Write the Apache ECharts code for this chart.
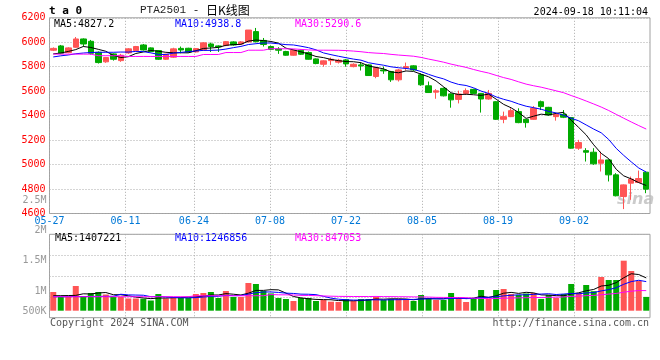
<!DOCTYPE html>
<html><head><meta charset="utf-8">
<script src="https://cdn.jsdelivr.net/npm/echarts@6/dist/echarts.min.js"></script>
<style>html,body{margin:0;padding:0;background:#fff}#c{width:660px;height:360px}</style>
</head><body><div id="c"></div>
<script>
const dates = ['05-27','05-28','05-29','05-30','05-31',
'06-03','06-04','06-05','06-06','06-07','06-11','06-12','06-13','06-14',
'06-17','06-18','06-19','06-20','06-21','06-24','06-25','06-26','06-27','06-28',
'07-01','07-02','07-03','07-04','07-05','07-08','07-09','07-10','07-11','07-12',
'07-15','07-16','07-17','07-18','07-19','07-22','07-23','07-24','07-25','07-26',
'07-29','07-30','07-31','08-01','08-02','08-05','08-06','08-07','08-08','08-09',
'08-12','08-13','08-14','08-15','08-16','08-19','08-20','08-21','08-22','08-23',
'08-26','08-27','08-28','08-29','08-30','09-02','09-03','09-04','09-05','09-06',
'09-09','09-10','09-11','09-12','09-13','09-18'];
const tickDates = ['05-27','06-11','06-24','07-08','07-22','08-05','08-19','09-02'];

const opens = [5935,5970,5916,5959,6027,6008,5918,5840,5905,5850,
5913,5932,5978,5954,5932,5861,5878,5950,5951,5921,
5937,5986,5970,5973,6003,5986,6003,6087,6015,5965,
5945,5924,5894,5935,5916,5864,5820,5850,5837,5856,
5801,5815,5815,5720,5774,5761,5693,5790,5807,5734,
5644,5592,5623,5578,5533,5582,5615,5582,5536,5514,
5370,5392,5433,5370,5370,5514,5468,5392,5411,5384,
5134,5114,5101,5011,5038,4916,4739,4848,4854,4938];
const closes = [5950,5910,5954,6027,5986,5910,5834,5875,5861,5894,
5946,5965,5937,5924,5861,5902,5946,5937,5921,5948,
5995,5965,5962,6005,5978,6003,6100,6005,5982,5942,
5935,5894,5935,5902,5861,5826,5848,5861,5853,5823,
5820,5807,5728,5793,5766,5693,5774,5801,5774,5652,
5589,5603,5562,5529,5577,5604,5582,5536,5582,5370,
5392,5441,5343,5343,5460,5474,5406,5411,5387,5134,
5180,5101,5006,5038,4916,4745,4834,4881,4886,4799];
const lows = [5928,5902,5910,5955,5965,5899,5826,5832,5850,5840,
5905,5928,5932,5918,5855,5856,5872,5910,5916,5916,
5932,5921,5921,5968,5972,5982,5998,5998,5965,5935,
5905,5890,5890,5896,5858,5820,5800,5815,5826,5800,
5795,5769,5725,5706,5742,5676,5679,5769,5766,5644,
5585,5538,5557,5465,5500,5569,5578,5425,5530,5365,
5338,5388,5338,5302,5366,5446,5400,5359,5380,5130,
5120,5025,4998,4943,4862,4740,4636,4712,4850,4766];
const highs = [5958,5978,5960,6043,6032,6019,5925,5880,5910,5905,
5952,5970,5986,5958,5936,5906,5955,5965,5955,5952,
6000,5997,5975,6010,6008,6010,6100,6117,6035,5972,
5960,5930,5940,5940,5925,5868,5852,5875,5864,5862,
5828,5834,5820,5800,5801,5766,5782,5834,5812,5747,
5679,5617,5630,5582,5604,5623,5620,5585,5610,5518,
5433,5460,5460,5374,5479,5523,5472,5415,5446,5388,
5202,5134,5134,5106,5042,4930,4838,4902,4951,4942];
const volumes = [801000,587000,587000,1058000,587000,758000,801000,694000,587000,587000,
523000,523000,514000,437000,716000,523000,587000,544000,544000,716000,
758000,801000,544000,844000,587000,587000,1187000,1144000,844000,741000,
544000,501000,416000,544000,544000,416000,458000,386000,373000,501000,
416000,501000,501000,587000,458000,501000,501000,458000,416000,673000,
544000,458000,458000,758000,544000,373000,544000,887000,501000,887000,
930000,716000,673000,737000,758000,506000,673000,544000,716000,1144000,
758000,1101000,836000,1444000,1315000,1315000,2143000,1701000,1273000,591000];

// moving-average values before the window is complete
const ma5Head = [5905,5912,5925,5940];
const ma10Head = [5880,5889,5896,5906,5912,5916,5918,5918,5918];
const ma30Head = [5903,5903,5903,5903,5903,5903,5890,5890,5890,5890,
5884,5884,5884,5884,5884,5884,5884,5884,5884,5884,5900,5900,5900,5916,5916,5916,5935,5935,5935];
const vma5Head = [640000,645000,650000,657000];
const vma10Head = [600000,600000,602000,605000,608000,610000,612000,615000,618000];
const vma30Head = [600000,600000,600000,600000,600000,600000,600000,600000,600000,600000,
600000,600000,600000,600000,600000,600000,600000,600000,600000,640000,
640000,640000,640000,640000,640000,640000,640000,640000,640000];

const priceTicks = {min:4600, max:6200, step:200};
const volTickValues = [500000,1000000,1500000,2000000,2500000];
const volTickLabels = ['500K','1M','1.5M','2M','2.5M'];
const priceLegend = ['MA5:4827.2','MA10:4938.8','MA30:5290.6'];
const volLegend = ['MA5:1407221','MA10:1246856','MA30:847053'];
const titleLead = 't a 0';
const titleCode = 'PTA2501 -';
const titleName = '日K线图';
const timeStamp = '2024-09-18 10:11:04';
const copyText = 'Copyright 2024 SINA.COM';
const urlText = 'http://finance.sina.com.cn';

function movingAvg(vals, n, head){
  return vals.map((v,i)=> i < n-1 ? head[i] : +(vals.slice(i-n+1,i+1).reduce((a,b)=>a+b,0)/n).toFixed(2));
}
const ma5 = movingAvg(closes,5,ma5Head), ma10 = movingAvg(closes,10,ma10Head), ma30 = movingAvg(closes,30,ma30Head);
const vma5 = movingAvg(volumes,5,vma5Head), vma10 = movingAvg(volumes,10,vma10Head), vma30 = movingAvg(volumes,30,vma30Head);

const UP='#ff5555', DOWN='#00aa00';
const MONO='"DejaVu Sans Mono"';
const GRIDLINE={color:'#aaaaaa', type:[1,2], width:1};
const isTick=(i,v)=>tickDates.includes(v);

const chart = echarts.init(document.getElementById('c'), null, {renderer:'canvas'});
const txt=(x,y,text,fill,extra)=>Object.assign({type:'text', x:x, y:y, silent:true,
  style:Object.assign({text:text, fill:fill, font:'10px '+MONO, align:'left', verticalAlign:'middle'}, extra||{})});

chart.setOption({
  animation:false,
  backgroundColor:'#fff',
  textStyle:{fontFamily:MONO},
  grid:[
    {left:49.5, top:17.8, width:600.5, height:195.7, show:true, borderColor:'#a0a0a0', borderWidth:1},
    {left:49.5, top:234.3, width:600.5, height:83.4, show:true, borderColor:'#a0a0a0', borderWidth:1},
    {left:49.5, top:200.7, width:600.5, height:120.4, show:false}
  ],
  xAxis:[
    {type:'category', gridIndex:0, data:dates, boundaryGap:true, show:false, position:'top'},
    {type:'category', gridIndex:0, data:dates, boundaryGap:false, position:'bottom',
     axisLine:{show:false}, axisTick:{show:false},
     axisLabel:{interval:isTick, color:'#0078d7', fontSize:10, fontFamily:MONO, margin:3},
     splitLine:{show:true, interval:isTick, lineStyle:GRIDLINE}},
    {type:'category', gridIndex:1, data:dates, boundaryGap:true, show:false, position:'top'},
    {type:'category', gridIndex:1, data:dates, boundaryGap:false, position:'bottom',
     axisLine:{show:false}, axisTick:{show:false}, axisLabel:{show:false},
     splitLine:{show:true, interval:isTick, lineStyle:GRIDLINE}},
    {type:'value', gridIndex:2, show:false}
  ],
  yAxis:[
    {type:'value', gridIndex:0, min:priceTicks.min, max:priceTicks.max, interval:priceTicks.step,
     axisLine:{show:false}, axisTick:{show:false},
     axisLabel:{color:'#ff0000', fontSize:10, fontFamily:MONO, margin:4, padding:[0,0,4,0], formatter:(v)=>String(v)},
     splitLine:{show:true, lineStyle:GRIDLINE}},
    {type:'value', gridIndex:1, min:-300000, max:3274000, show:false, splitLine:{show:false}},
    {type:'value', gridIndex:1, min:0, max:4, interval:1, axisLine:{show:false}, axisTick:{show:false},
     axisLabel:{show:false}, splitLine:{show:true, lineStyle:GRIDLINE}},
    {type:'value', gridIndex:2, min:volTickValues[0], max:volTickValues[volTickValues.length-1],
     interval:volTickValues[1]-volTickValues[0],
     axisLine:{show:false}, axisTick:{show:false}, splitLine:{show:false},
     axisLabel:{color:'#999999', fontSize:10, fontFamily:MONO, margin:3,
       formatter:(v)=>{const k=volTickValues.indexOf(v); const s=k>=0?volTickLabels[k]:''; return k===0?'{low|'+s+'}':s;},
       rich:{low:{padding:[0,0,20,0], fontSize:10, fontFamily:MONO, color:'#999999'}}}}
  ],
  series:[
    {type:'candlestick', xAxisIndex:0, yAxisIndex:0, barWidth:6, silent:true,
     data:opens.map((o,i)=>[o,closes[i],lows[i],highs[i]]),
     itemStyle:{color:UP, color0:DOWN, borderColor:UP, borderColor0:DOWN, borderWidth:1}},
    {type:'line', xAxisIndex:0, yAxisIndex:0, data:ma5, symbol:'none', silent:true, lineStyle:{color:'#000000', width:1}},
    {type:'line', xAxisIndex:0, yAxisIndex:0, data:ma10, symbol:'none', silent:true, lineStyle:{color:'#0000ff', width:1}},
    {type:'line', xAxisIndex:0, yAxisIndex:0, data:ma30, symbol:'none', silent:true, lineStyle:{color:'#ff00ff', width:1}},
    {type:'bar', xAxisIndex:2, yAxisIndex:1, barWidth:6, silent:true,
     data:volumes.map((v,i)=>({value:v, itemStyle:{color: closes[i]>=opens[i]?UP:DOWN}}))},
    {type:'line', xAxisIndex:2, yAxisIndex:1, data:vma5, symbol:'none', silent:true, lineStyle:{color:'#000000', width:1}},
    {type:'line', xAxisIndex:2, yAxisIndex:1, data:vma10, symbol:'none', silent:true, lineStyle:{color:'#0000ff', width:1}},
    {type:'line', xAxisIndex:2, yAxisIndex:1, data:vma30, symbol:'none', silent:true, lineStyle:{color:'#ff00ff', width:1}}
  ],
  graphic:[
    txt(49,11.5,titleLead,'#000',{font:'bold 11px '+MONO}),
    txt(140,10.5,titleCode,'#222',{font:'11px "Liberation Mono"'}),
    txt(206,10.5,titleName,'#000',{font:'12px "Noto Sans CJK SC"'}),
    txt(648,12,timeStamp,'#000',{align:'right'}),
    txt(54,24,priceLegend[0],'#000'),
    txt(175,24,priceLegend[1],'#0000ff'),
    txt(295,24,priceLegend[2],'#ff00ff'),
    txt(55,238.5,volLegend[0],'#000'),
    txt(175,238.5,volLegend[1],'#0000ff'),
    txt(295,238.5,volLegend[2],'#ff00ff'),
    txt(50,323,copyText,'#555'),
    txt(649,323,urlText,'#555',{align:'right'}),
    txt(617,200,'sina','rgba(185,185,185,0.75)',{font:'italic bold 16px "DejaVu Sans"'})
  ]
});
</script></body></html>
